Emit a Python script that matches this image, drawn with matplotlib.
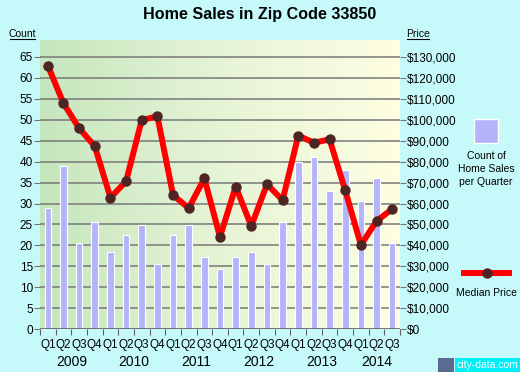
import matplotlib
matplotlib.use('Agg')
import matplotlib.pyplot as plt
import numpy as np
from matplotlib.colors import LinearSegmentedColormap

# quarterly data, 2009 Q1 .. 2014 Q3
quarters = ['Q1', 'Q2', 'Q3', 'Q4'] * 5 + ['Q1', 'Q2', 'Q3']
years = ['2009', '2010', '2011', '2012', '2013', '2014']
counts = [29, 39, 20.5, 25.7, 18.5, 22.6, 24.8, 15.5, 22.6, 24.8, 17.3, 14.5,
          17.3, 18.5, 15.5, 25.6, 40, 41, 33, 38, 30.7, 36, 20.5]
prices = [125800, 107800, 95900, 87300, 62800, 70600, 99800, 101600, 64000, 57800,
          72000, 44000, 68100, 49200, 69200, 61600, 92400, 89000, 90600, 66300,
          40200, 51600, 57400]
count_ticks = list(range(0, 70, 5))
price_ticks = list(range(0, 140000, 10000))

plt.rcParams['font.family'] = ['Liberation Sans', 'DejaVu Sans']
bg = '#c6fafa'

fig = plt.figure(figsize=(5.2, 3.72), dpi=100, facecolor=bg)
W, H = 520, 372
x0, x1, ytop, ybot = 40, 400, 40, 329.3
ax = fig.add_axes([x0 / W, 1 - ybot / H, (x1 - x0) / W, (ybot - ytop) / H])

n = len(counts)
ymax = 69
ax.set_xlim(0, n)
ax.set_ylim(0, ymax)

# gradient background
cmap = LinearSegmentedColormap.from_list('bg', ['#c6e6be', '#e6f4d6', '#fefee2'])
grad = np.linspace(0, 1, 256).reshape(1, -1)
ax.imshow(grad, cmap=cmap, extent=[0, n, 0, ymax], aspect='auto', zorder=0)

for t in count_ticks[1:]:
    ax.axhline(t, color='#787878', lw=1.1, zorder=1)

x = np.arange(n) + 0.5
ax.bar(x, counts, width=0.42, color='#b4b4fa', edgecolor='white', linewidth=0.8, zorder=2)

ax2 = ax.twinx()
ax2.set_ylim(0, ymax * 2000)
ax2.plot(x, prices, color='#ff0000', lw=4.3, zorder=3, solid_joinstyle='round')
ax2.plot(x, prices, 'o', color='#4e2424', ms=6.5, zorder=4)

for a in (ax, ax2):
    for s in a.spines.values():
        s.set_visible(False)

ax.set_yticks(count_ticks)
ax.set_yticklabels([str(t) for t in count_ticks], fontsize=8.5)
ax.tick_params(axis='y', length=4, color='#787878', pad=1)
ax2.set_yticks(price_ticks)
ax2.set_yticklabels(['${:,}'.format(t) for t in price_ticks], fontsize=8.5)
ax2.tick_params(axis='y', length=4, color='#787878', pad=1)

ax.set_xticks(np.arange(n + 1))
ax.set_xticklabels([])
ax.tick_params(axis='x', length=4, color='#606060')
ax.axhline(0, color='#606060', lw=1.2, zorder=5)
for xi, q in zip(x, quarters):
    ax.text(xi, -2.4, q, ha='center', va='top', fontsize=8.5)
for i, yr in enumerate(years):
    nq = min(4, n - 4 * i)
    ax.text(4 * i + nq / 2, -6.2, yr, ha='center', va='top', fontsize=10)

fig.text(260 / W, 1 - 15 / H, 'Home Sales in Zip Code 33850', ha='center', va='center',
         fontsize=11.6, fontweight='bold')
fig.text(22 / W, 1 - 34 / H, 'Count', ha='center', va='center', fontsize=7.5)
fig.add_artist(plt.Line2D([10 / W, 35 / W], [1 - 39 / H, 1 - 39 / H], color='black', lw=0.8))
fig.text(418 / W, 1 - 34 / H, 'Price', ha='center', va='center', fontsize=7.5)
fig.add_artist(plt.Line2D([407 / W, 429 / W], [1 - 39 / H, 1 - 39 / H], color='black', lw=0.8))

# legend
fig.patches.append(plt.Rectangle((474 / W, 1 - 143 / H), 24 / W, 24 / H, transform=fig.transFigure,
                                 facecolor='#b4b4fa', edgecolor='white', lw=1))
fig.text(486 / W, 1 - 169 / H, 'Count of\nHome Sales\nper Quarter', ha='center', va='center',
         fontsize=7.5, linespacing=1.35)
fig.add_artist(plt.Line2D([464 / W, 509 / W], [1 - 272.5 / H] * 2, color='#ff0000', lw=4.3))
fig.add_artist(plt.Line2D([487 / W], [1 - 272.5 / H], marker='o', color='#4e2424', ms=6.5))
fig.text(486 / W, 1 - 293 / H, 'Median Price', ha='center', va='center', fontsize=7.5)

# watermark
fig.patches.append(plt.Rectangle((438 / W, 0), 16 / W, 14 / H, transform=fig.transFigure,
                                 facecolor='#5a6a90', edgecolor='none'))
fig.patches.append(plt.Rectangle((455 / W, 0), 65 / W, 14 / H, transform=fig.transFigure,
                                 facecolor='#00f0f8', edgecolor='none'))
fig.text(487 / W, 7 / H, 'city-data.com', ha='center', va='center', fontsize=7.5, color='white')

fig.savefig('out.png', dpi=100, facecolor=bg)
